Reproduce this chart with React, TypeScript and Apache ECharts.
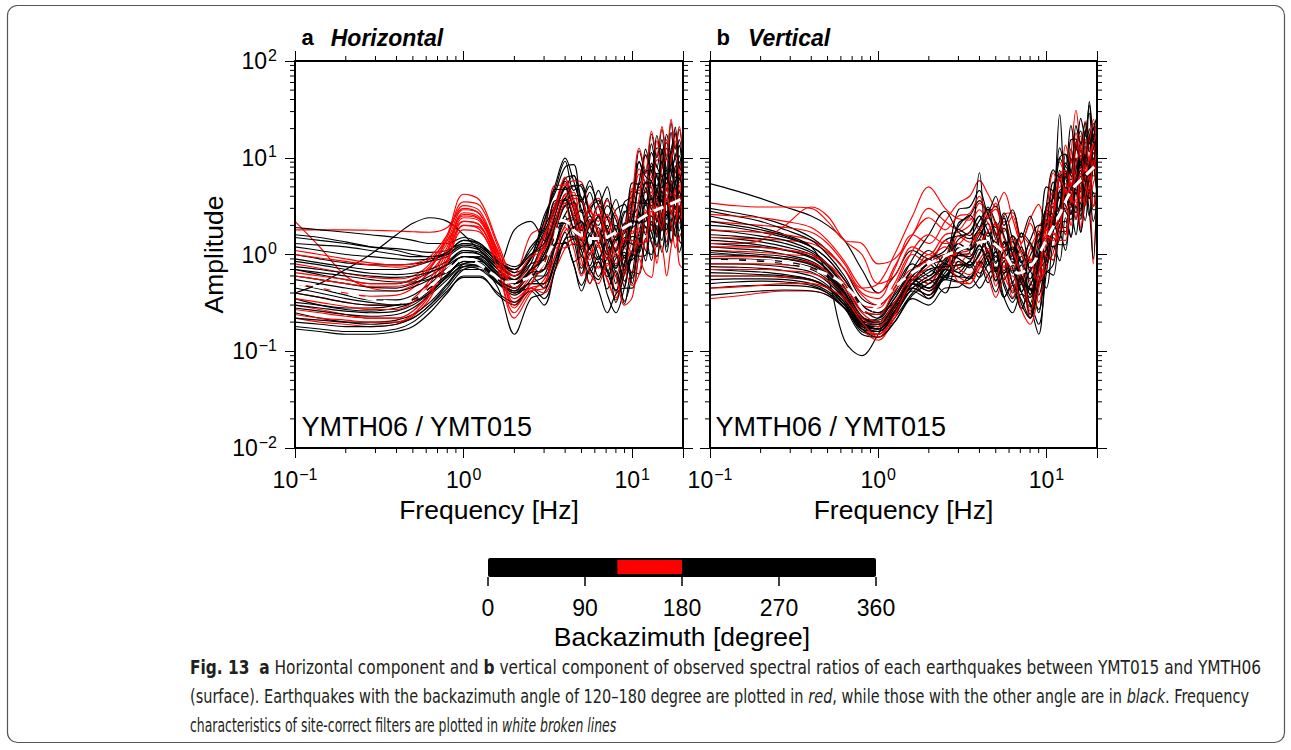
import React, { useEffect, useRef } from "react";
import * as echarts from "echarts";

const FONT = "'Liberation Sans', Arial, Helvetica, sans-serif";
const CAPTION_FONT_FAMILY = "'Liberation Sans Narrow', 'DejaVu Sans Condensed', 'Liberation Sans', sans-serif";

// ---------- frequency grid of the spectral-ratio curves (Hz) ----------
const FREQ = [0.1, 0.14, 0.2, 0.28, 0.4, 0.5, 0.63, 0.8, 1.0, 1.25, 1.6, 2.0, 2.5, 3.0, 3.5, 4.0, 4.5, 5.0, 5.6, 6.3, 7.1, 8.0, 9.0, 10, 11, 12, 13, 14, 15, 16, 17, 18, 19, 20];

// ---------- panel a (Horizontal): black = other backazimuths ----------
const A_K1 = [0.17, 0.16, 0.15, 0.15, 0.16, 0.18, 0.25, 0.4, 0.6, 0.6, 0.38, 0.3, 0.5, 0.6, 1.3, 2.5, 1.26, 1.44, 0.76, 1.26, 0.66, 1.0, 0.46, 1.1, 1.05, 2.45, 1.45, 3.4, 1.75, 3.5, 2.2, 4.15, 1.75, 2.4];
const A_K2 = [0.25, 0.22, 0.2, 0.19, 0.2, 0.22, 0.3, 0.45, 0.7, 0.75, 0.5, 0.38, 0.55, 1.0, 1.76, 3.2, 3.4, 1.4, 2.3, 1.3, 2.0, 0.72, 1.4, 1.9, 5.5, 3.2, 8.2, 4.7, 9.1, 4.6, 10.8, 5.7, 9.1, 4.7];
const A_K3 = [0.35, 0.3, 0.27, 0.26, 0.28, 0.32, 0.42, 0.6, 0.85, 0.8, 0.55, 0.42, 0.5, 0.5, 1.3, 1.3, 1.45, 1.4, 0.72, 0.55, 0.9, 0.65, 0.33, 0.63, 1.6, 1.1, 1.0, 2.2, 2.1, 1.05, 2.1, 3.1, 1.4, 1.26];
const A_K4 = [0.5, 0.44, 0.38, 0.34, 0.34, 0.38, 0.5, 0.7, 0.95, 0.9, 0.6, 0.5, 0.7, 1.5, 3.0, 5.7, 3.45, 1.8, 3.0, 3.6, 1.65, 1.08, 1.95, 4.5, 4.3, 4.4, 11.3, 8.1, 6.3, 12.6, 9.0, 7.0, 13.5, 7.2];
const A_K5 = [0.7, 0.62, 0.55, 0.5, 0.5, 0.55, 0.65, 0.8, 1.05, 1.0, 0.7, 0.55, 0.8, 2.2, 5.3, 9.9, 5.7, 3.5, 5.1, 3.2, 1.85, 2.9, 3.3, 1.26, 3.0, 5.6, 3.8, 2.7, 6.0, 7.5, 3.9, 5.5, 7.0, 2.4];
const A_K6 = [1.0, 0.9, 0.82, 0.78, 0.78, 0.8, 0.85, 0.95, 1.2, 1.1, 0.75, 0.6, 0.9, 1.7, 3.0, 4.9, 6.6, 3.7, 2.1, 3.2, 2.4, 1.4, 2.8, 2.6, 3.4, 7.3, 7.4, 4.3, 12, 7.2, 11.5, 6.2, 8.0, 9.6];
const A_K7 = [1.5, 1.4, 1.3, 1.2, 1.15, 1.1, 1.05, 1.1, 1.3, 1.2, 0.85, 0.7, 1.0, 1.2, 2.6, 5.0, 2.5, 2.9, 1.5, 2.5, 1.3, 2.0, 0.92, 1.54, 1.47, 3.4, 2.0, 4.8, 2.45, 4.9, 3.1, 5.8, 2.45, 3.4];
const A_K8 = [1.9, 1.8, 1.7, 1.6, 1.5, 1.4, 1.3, 1.3, 1.5, 1.3, 0.9, 0.75, 1.1, 1.9, 3.3, 6.1, 6.5, 2.7, 4.4, 2.5, 3.8, 1.37, 2.7, 3.2, 9.2, 5.4, 13.9, 7.9, 15.4, 7.7, 18.3, 9.7, 15.4, 7.9];
const A_K9 = [0.4, 0.5, 0.7, 1.0, 1.6, 2.1, 2.4, 2.2, 1.6, 1.1, 0.8, 1.8, 2.2, 1.4, 3.6, 3.6, 4.1, 3.9, 2.0, 1.54, 2.5, 1.8, 0.92, 2.0, 5.0, 3.5, 3.2, 6.9, 6.6, 3.3, 6.6, 9.7, 4.4, 4.0];
const A_K10 = [0.28, 0.26, 0.24, 0.23, 0.24, 0.28, 0.38, 0.55, 0.8, 0.85, 0.55, 0.4, 0.45, 0.35, 0.7, 1.33, 0.8, 0.42, 0.7, 0.84, 0.39, 0.25, 0.46, 1.0, 0.96, 0.98, 2.5, 1.8, 1.4, 2.8, 2.0, 1.56, 3.0, 1.6];
const A_K11 = [0.6, 0.55, 0.5, 0.46, 0.45, 0.5, 0.6, 0.8, 1.1, 1.05, 0.7, 0.5, 0.65, 1.1, 2.6, 5.0, 2.9, 1.76, 2.5, 1.6, 0.92, 1.43, 1.65, 2.4, 5.7, 10.6, 7.2, 5.1, 11.4, 14.3, 7.4, 10.5, 13.3, 4.6];
const A_K12 = [0.85, 0.78, 0.7, 0.64, 0.62, 0.64, 0.7, 0.85, 1.1, 1.0, 0.65, 0.55, 0.8, 0.9, 1.6, 2.6, 3.5, 2.0, 1.13, 1.7, 1.26, 0.76, 1.5, 1.28, 1.68, 3.6, 3.7, 2.16, 6.0, 3.6, 5.8, 3.1, 4.0, 0.7];
const A_K13 = [0.2, 0.19, 0.18, 0.18, 0.19, 0.22, 0.3, 0.48, 0.7, 0.7, 0.45, 0.15, 0.35, 0.4, 0.88, 1.7, 0.84, 0.96, 0.5, 0.84, 0.44, 0.68, 0.31, 0.66, 0.63, 1.47, 0.87, 2.0, 1.05, 2.1, 1.3, 2.5, 1.05, 1.44];
const A_K14 = [1.2, 1.1, 1.0, 0.95, 0.9, 0.88, 0.9, 1.0, 1.3, 1.2, 0.85, 0.65, 0.9, 2.5, 4.4, 8.0, 8.5, 3.5, 5.8, 3.3, 5.0, 1.8, 3.5, 4.0, 11.8, 6.9, 17.6, 10, 19.6, 9.8, 23, 12.3, 19.6, 10];
const A_K15 = [0.45, 0.4, 0.35, 0.32, 0.3, 0.32, 0.4, 0.6, 0.9, 0.95, 0.65, 0.5, 0.6, 0.8, 2.1, 2.1, 2.3, 2.2, 1.15, 0.88, 1.44, 1.04, 0.53, 1.08, 2.7, 1.9, 1.74, 3.8, 3.6, 1.8, 3.6, 5.3, 2.4, 2.2];
const A_K16 = [0.32, 0.3, 0.28, 0.28, 0.3, 0.34, 0.45, 0.62, 0.85, 0.8, 0.55, 0.45, 0.65, 1.0, 2.0, 3.8, 2.3, 1.2, 2.0, 2.4, 1.1, 0.72, 1.3, 3.5, 3.4, 3.4, 8.8, 6.3, 4.9, 9.8, 7.0, 5.5, 10.5, 5.6];
const A_K17 = [0.7, 0.65, 0.6, 0.55, 0.52, 0.52, 0.56, 0.65, 0.8, 0.75, 0.55, 0.45, 0.6, 0.7, 1.7, 3.2, 1.8, 1.12, 1.6, 1.0, 0.59, 0.91, 1.05, 0.57, 1.35, 2.5, 1.7, 1.2, 2.7, 3.4, 1.75, 2.5, 3.2, 0.45];
const A_K18 = [0.22, 0.21, 0.2, 0.2, 0.21, 0.24, 0.32, 0.5, 0.75, 0.78, 0.52, 0.4, 0.5, 0.5, 0.88, 1.45, 1.95, 1.1, 0.63, 0.95, 0.7, 0.42, 0.83, 0.88, 1.16, 2.5, 2.5, 1.5, 4.1, 2.5, 4.0, 2.1, 2.75, 3.3];
const A_K19 = [0.9, 0.82, 0.75, 0.7, 0.7, 0.75, 0.85, 1.05, 1.4, 1.3, 0.8, 0.6, 0.95, 2.2, 4.8, 9.2, 4.6, 5.3, 2.8, 4.6, 2.4, 3.7, 1.7, 5.5, 5.3, 12.3, 7.3, 17, 8.8, 17.5, 11, 20.8, 8.8, 12];
const A_K20 = [0.3, 0.28, 0.26, 0.25, 0.26, 0.3, 0.4, 0.58, 0.75, 0.7, 0.5, 0.42, 0.6, 0.45, 0.8, 1.44, 1.53, 0.63, 1.04, 0.59, 0.9, 0.32, 0.63, 0.94, 2.7, 1.6, 4.1, 2.3, 4.55, 2.3, 5.4, 2.9, 4.55, 2.3];
const A_K21 = [1.6, 1.5, 1.35, 1.2, 1.1, 1.0, 0.95, 1.0, 1.25, 1.15, 0.8, 0.7, 1.2, 1.8, 4.7, 4.7, 5.2, 5.0, 2.6, 2.0, 3.2, 2.3, 1.2, 3.6, 9.0, 6.4, 5.8, 12.6, 12, 6.0, 12, 17.6, 8.0, 7.2];
const A_K22 = [0.4, 0.36, 0.32, 0.3, 0.3, 0.34, 0.45, 0.62, 0.85, 0.82, 0.55, 0.45, 0.6, 0.6, 1.2, 2.3, 1.4, 0.72, 1.2, 1.44, 0.66, 0.43, 0.78, 2.25, 2.16, 2.2, 5.7, 4.05, 3.15, 6.3, 4.5, 3.5, 6.75, 3.6];
const A_K23 = [0.18, 0.17, 0.16, 0.16, 0.17, 0.2, 0.28, 0.42, 0.58, 0.58, 0.4, 0.32, 0.42, 0.3, 0.72, 1.35, 0.78, 0.48, 0.69, 0.43, 0.25, 0.39, 0.45, 0.45, 1.05, 1.96, 1.33, 0.95, 2.1, 2.6, 1.37, 1.9, 2.45, 0.84];
const A_K24 = [1.3, 1.25, 1.2, 1.1, 1.0, 0.95, 0.95, 1.05, 1.4, 1.25, 0.85, 0.7, 1.0, 1.3, 2.3, 3.8, 5.1, 2.9, 1.64, 2.5, 1.8, 1.1, 2.1, 1.9, 2.5, 5.5, 5.5, 3.2, 9.0, 5.4, 8.6, 4.7, 6.0, 7.2];
const A_K25 = [0.55, 0.5, 0.45, 0.42, 0.42, 0.46, 0.55, 0.72, 0.95, 0.92, 0.62, 0.5, 0.7, 0.9, 2.0, 3.8, 1.9, 2.2, 1.13, 1.9, 1.0, 1.53, 0.69, 2.2, 2.1, 4.9, 2.9, 6.8, 3.5, 7.0, 4.4, 8.3, 3.5, 4.8];
const A_K26 = [0.75, 0.7, 0.64, 0.6, 0.58, 0.6, 0.66, 0.78, 0.95, 0.88, 0.6, 0.5, 0.65, 0.7, 1.23, 2.24, 2.4, 0.98, 1.6, 0.91, 1.4, 0.5, 0.98, 0.5, 1.47, 0.86, 2.2, 1.26, 2.45, 1.2, 2.9, 1.54, 2.45, 1.26];

// ---------- panel a: red = backazimuth 120-180 deg ----------
const A_R1 = [2.2, 1.2, 0.6, 0.45, 0.42, 0.48, 0.65, 1.1, 2.0, 1.8, 0.8, 0.45, 0.7, 1.3, 3.4, 3.4, 3.8, 3.6, 1.9, 1.43, 2.3, 1.7, 0.86, 2.7, 6.8, 4.8, 4.4, 9.5, 9.0, 4.5, 9.0, 13.2, 6.0, 5.4];
const A_R2 = [1.8, 1.8, 1.8, 1.78, 1.75, 1.72, 1.7, 1.9, 3.0, 2.6, 1.0, 0.55, 0.9, 1.6, 3.2, 6.1, 3.7, 1.9, 3.2, 3.8, 1.76, 1.15, 2.1, 2.5, 2.4, 2.45, 6.3, 4.5, 3.5, 7.0, 5.0, 3.9, 7.5, 4.0];
const A_R3 = [0.3, 0.27, 0.24, 0.22, 0.22, 0.26, 0.4, 0.9, 2.2, 2.0, 0.8, 0.35, 0.5, 0.9, 2.2, 4.05, 2.3, 1.44, 2.1, 1.3, 0.76, 1.17, 1.35, 1.0, 2.4, 4.5, 3.0, 2.2, 4.8, 6.0, 3.1, 4.4, 5.6, 1.9];
const A_R4 = [0.5, 0.45, 0.4, 0.37, 0.38, 0.45, 0.7, 1.5, 3.5, 3.2, 1.2, 0.5, 0.7, 0.7, 1.23, 2.0, 2.7, 1.54, 0.88, 1.33, 0.98, 0.59, 1.16, 0.96, 1.26, 2.7, 2.8, 1.6, 4.5, 2.7, 4.3, 2.3, 3.0, 3.6];
const A_R5 = [0.8, 0.72, 0.64, 0.58, 0.56, 0.6, 0.8, 1.6, 4.2, 3.6, 1.3, 0.6, 0.9, 1.5, 3.3, 6.3, 3.2, 3.6, 1.9, 3.2, 1.65, 2.55, 1.16, 4.8, 4.6, 10.8, 6.4, 15, 7.7, 15.4, 9.7, 18.3, 7.7, 10.6];
const A_R6 = [0.22, 0.2, 0.19, 0.18, 0.19, 0.23, 0.35, 0.8, 2.0, 1.9, 0.7, 0.22, 0.4, 0.55, 0.97, 1.76, 1.87, 0.77, 1.27, 0.72, 1.1, 0.4, 0.77, 0.65, 1.9, 1.1, 2.8, 1.6, 3.15, 1.6, 3.7, 2.0, 3.15, 1.6];
const A_R7 = [1.1, 1.0, 0.9, 0.82, 0.78, 0.8, 0.95, 1.6, 3.2, 2.8, 1.1, 0.65, 1.6, 2.0, 5.2, 5.2, 5.8, 5.6, 2.9, 2.2, 3.6, 2.6, 1.32, 3.1, 7.7, 5.4, 4.9, 10.7, 10.2, 5.1, 10.2, 15, 6.8, 6.1];
const A_R8 = [0.4, 0.36, 0.32, 0.3, 0.3, 0.35, 0.55, 1.2, 2.7, 2.4, 0.9, 0.28, 0.45, 0.5, 1.0, 1.9, 1.15, 0.6, 1.0, 1.2, 0.55, 0.36, 0.65, 1.75, 1.7, 1.7, 4.4, 3.15, 2.45, 4.9, 3.5, 2.7, 5.25, 1.2];
const A_R9 = [0.6, 0.55, 0.5, 0.47, 0.47, 0.52, 0.72, 1.3, 2.5, 2.3, 1.0, 0.4, 0.6, 1.2, 2.9, 5.4, 3.1, 1.9, 2.8, 1.73, 1.0, 1.56, 1.8, 1.64, 3.9, 7.3, 4.9, 3.5, 7.8, 9.75, 5.1, 7.15, 9.1, 3.1];
const A_R10 = [0.27, 0.25, 0.23, 0.22, 0.22, 0.26, 0.42, 1.0, 2.4, 2.2, 0.85, 0.3, 0.45, 0.4, 0.7, 1.16, 1.56, 0.88, 0.5, 0.76, 0.56, 0.34, 0.66, 0.48, 0.63, 1.37, 1.38, 0.81, 2.25, 1.35, 2.16, 1.17, 1.5, 1.8];
const A_R11 = [0.35, 0.32, 0.29, 0.27, 0.27, 0.32, 0.5, 1.1, 2.6, 2.3, 0.9, 0.32, 0.5, 0.8, 1.76, 3.4, 1.7, 1.9, 1.0, 1.7, 0.88, 1.36, 0.62, 1.3, 1.26, 2.9, 1.74, 4.1, 2.1, 4.2, 2.6, 5.0, 2.1, 2.9];
const A_R12 = [0.65, 0.6, 0.55, 0.5, 0.5, 0.56, 0.75, 1.4, 2.9, 2.6, 1.05, 0.45, 0.65, 1.3, 2.3, 4.2, 4.4, 1.8, 3.0, 1.7, 2.6, 0.94, 1.8, 4.3, 12.6, 7.4, 18.9, 10.8, 21, 10.5, 24.9, 13.2, 21, 10.8];
const A_R13 = [0.24, 0.22, 0.21, 0.2, 0.2, 0.24, 0.38, 0.85, 1.8, 1.7, 0.7, 0.25, 0.42, 0.45, 1.17, 1.17, 1.3, 1.26, 0.65, 0.5, 0.81, 0.59, 0.3, 0.36, 0.9, 0.64, 0.58, 1.26, 1.2, 0.6, 1.2, 1.76, 0.8, 0.72];
const A_R14 = [1.0, 0.92, 0.85, 0.78, 0.74, 0.76, 0.9, 1.4, 2.2, 2.0, 0.9, 0.6, 0.95, 1.1, 2.2, 4.2, 2.5, 1.3, 2.2, 2.6, 1.2, 0.8, 1.43, 1.4, 1.3, 1.35, 3.5, 2.5, 1.9, 3.85, 2.75, 2.1, 4.1, 2.2];

// ---------- panel b (Vertical): black ----------
const B_K1 = [5.4, 4.6, 3.8, 3.1, 2.5, 2.0, 1.4, 0.7, 0.4, 0.6, 1.1, 0.9, 1.4, 1.56, 1.68, 2.5, 1.54, 2.16, 1.09, 1.56, 0.82, 1.34, 0.76, 2.9, 2.6, 7.4, 4.7, 12.4, 6.8, 14.7, 9.6, 20, 9.5, 14.4];
const B_K2 = [3.0, 2.7, 2.4, 2.0, 1.5, 1.1, 0.7, 0.35, 0.3, 0.45, 0.8, 0.6, 1.0, 1.04, 0.9, 1.28, 1.68, 0.84, 1.36, 0.64, 0.96, 0.38, 0.94, 1.4, 3.85, 2.7, 7.4, 4.8, 10, 5.4, 13.2, 7.9, 13.9, 7.9];
const B_K3 = [2.0, 1.9, 1.7, 1.5, 1.2, 0.9, 0.55, 0.28, 0.22, 0.35, 0.6, 0.5, 0.8, 0.65, 0.85, 0.64, 0.88, 1.05, 0.52, 0.35, 0.55, 0.44, 0.27, 0.96, 2.25, 1.9, 1.9, 4.6, 4.7, 2.5, 5.3, 8.6, 4.3, 4.3];
const B_K4 = [1.5, 1.45, 1.35, 1.2, 1.0, 0.75, 0.45, 0.22, 0.2, 0.3, 0.55, 0.7, 0.55, 1.17, 1.13, 1.7, 1.3, 0.81, 1.29, 1.35, 0.61, 0.43, 0.97, 2.9, 2.6, 3.2, 8.8, 7.2, 5.9, 12.7, 9.4, 8.2, 17.6, 10.4];
const B_K5 = [1.2, 1.15, 1.1, 1.0, 0.85, 0.65, 0.4, 0.2, 0.17, 0.25, 0.45, 0.38, 0.6, 0.72, 0.85, 1.23, 0.88, 0.66, 0.94, 0.5, 0.28, 0.48, 0.69, 0.9, 2.0, 4.5, 3.2, 2.6, 6.2, 8.4, 4.5, 7.2, 10, 3.8];
const B_K6 = [1.0, 0.98, 0.95, 0.9, 0.8, 0.62, 0.38, 0.19, 0.18, 0.28, 0.5, 0.8, 0.55, 1.3, 1.12, 1.44, 2.4, 1.65, 0.91, 1.2, 0.85, 0.56, 1.35, 2.0, 2.45, 6.4, 6.9, 4.6, 13.7, 8.8, 14.6, 8.8, 12.6, 16.8];
const B_K7 = [0.8, 0.8, 0.78, 0.74, 0.66, 0.52, 0.34, 0.18, 0.16, 0.24, 0.42, 0.35, 0.55, 0.52, 0.56, 0.84, 0.51, 0.72, 0.36, 0.52, 0.27, 0.45, 0.25, 0.96, 0.88, 2.45, 1.6, 4.1, 2.3, 4.9, 3.2, 6.75, 3.15, 4.8];
const B_K8 = [0.6, 0.6, 0.6, 0.58, 0.54, 0.45, 0.3, 0.16, 0.15, 0.22, 0.4, 0.55, 0.4, 0.85, 0.73, 1.04, 1.37, 0.68, 1.1, 0.52, 0.78, 0.31, 0.76, 1.15, 3.15, 2.2, 6.1, 4.0, 8.2, 4.4, 10.8, 6.5, 11.3, 6.5];
const B_K9 = [0.45, 0.47, 0.48, 0.48, 0.46, 0.4, 0.28, 0.15, 0.14, 0.2, 0.35, 0.3, 0.45, 0.46, 0.6, 0.45, 0.62, 0.74, 0.36, 0.25, 0.39, 0.31, 0.19, 0.64, 1.5, 1.26, 1.26, 3.1, 3.1, 1.7, 3.5, 5.8, 2.9, 2.9];
const B_K10 = [2.5, 2.2, 1.9, 1.6, 1.2, 0.6, 0.13, 0.09, 0.15, 0.3, 0.5, 0.35, 0.6, 0.78, 0.76, 1.14, 0.86, 0.54, 0.86, 0.9, 0.41, 0.29, 0.65, 2.1, 1.9, 2.3, 6.4, 5.2, 4.3, 9.3, 6.8, 6.0, 12.8, 7.6];
const B_K11 = [0.7, 0.68, 0.66, 0.62, 0.55, 0.45, 0.3, 0.2, 0.22, 0.35, 0.7, 1.1, 0.8, 2.1, 2.5, 3.6, 2.6, 1.9, 2.7, 1.44, 0.82, 1.4, 2.0, 2.0, 4.5, 10, 7.3, 5.9, 14, 18.9, 10, 16.2, 22.7, 8.6];
const B_K12 = [1.8, 1.7, 1.55, 1.4, 1.1, 0.8, 0.5, 0.26, 0.24, 0.4, 0.9, 1.6, 2.8, 1.7, 1.46, 1.87, 3.1, 2.1, 1.18, 1.56, 1.1, 0.73, 1.75, 1.44, 1.75, 4.55, 4.95, 3.3, 9.75, 6.3, 10.4, 6.3, 9.0, 12];
const B_K13 = [0.9, 0.88, 0.85, 0.8, 0.7, 0.55, 0.35, 0.19, 0.17, 0.26, 0.5, 0.45, 0.7, 0.98, 1.05, 7.0, 0.96, 1.35, 0.68, 0.98, 0.51, 0.84, 0.47, 2.3, 2.1, 5.9, 3.8, 9.9, 5.5, 11.8, 7.7, 16.2, 7.6, 11.5];
const B_K14 = [1.3, 1.25, 1.2, 1.1, 0.95, 0.7, 0.42, 0.21, 0.19, 0.3, 0.55, 0.45, 0.75, 1.3, 1.12, 1.6, 2.1, 1.05, 2.5, 0.8, 1.2, 0.48, 1.17, 2.05, 5.6, 3.9, 10.8, 7.0, 14.6, 7.8, 19.2, 11.5, 20, 11.5];
const B_K15 = [0.55, 0.56, 0.56, 0.55, 0.5, 0.42, 0.3, 0.2, 0.2, 0.3, 0.55, 0.45, 0.7, 0.59, 0.77, 0.58, 0.79, 0.95, 0.47, 0.32, 0.5, 0.3, 0.15, 0.88, 2.06, 1.73, 1.73, 4.2, 4.3, 2.3, 4.8, 7.9, 4.0, 4.0];
const B_K16 = [2.2, 2.0, 1.8, 1.55, 1.2, 0.9, 0.55, 0.3, 0.25, 0.32, 0.5, 0.42, 0.65, 0.98, 0.95, 1.43, 1.08, 0.68, 1.07, 1.13, 0.51, 0.36, 0.81, 2.7, 2.4, 2.9, 8.1, 6.6, 5.5, 11.8, 8.6, 38, 16.2, 9.6];
const B_K17 = [1.1, 1.05, 1.0, 0.95, 0.82, 0.62, 0.4, 0.22, 0.21, 0.32, 0.6, 0.9, 0.6, 1.04, 1.23, 1.8, 1.28, 0.96, 1.36, 0.72, 0.41, 0.7, 1.0, 1.12, 2.5, 28, 4.05, 3.3, 7.8, 10.5, 5.6, 9.0, 12.6, 4.8];
const B_K18 = [0.38, 0.4, 0.42, 0.43, 0.42, 0.38, 0.28, 0.18, 0.17, 0.25, 0.45, 0.38, 0.58, 0.52, 0.45, 0.58, 0.96, 0.66, 0.36, 0.48, 0.34, 0.22, 0.54, 0.65, 0.79, 2.05, 2.2, 1.5, 4.4, 2.8, 4.7, 2.8, 0.9, 5.4];
const B_K19 = [1.6, 1.55, 1.45, 1.3, 1.05, 0.78, 0.46, 0.23, 0.2, 0.3, 0.55, 0.8, 0.9, 2.9, 3.1, 4.6, 2.8, 4.0, 2.0, 2.9, 1.5, 2.5, 1.4, 5.0, 4.55, 12.7, 8.2, 21.5, 11.8, 25.5, 16.6, 35, 16.4, 25];
const B_K20 = [0.5, 0.52, 0.53, 0.52, 0.48, 0.4, 0.28, 0.17, 0.16, 0.24, 0.45, 0.6, 0.7, 0.65, 0.56, 0.8, 1.05, 0.53, 0.85, 0.4, 0.6, 0.24, 0.59, 0.45, 1.23, 0.86, 2.4, 1.54, 3.2, 1.7, 4.2, 2.5, 4.4, 2.5];
const B_K21 = [2.8, 2.5, 2.2, 1.8, 1.4, 1.0, 0.6, 0.3, 0.25, 0.38, 0.7, 0.9, 1.1, 1.95, 2.55, 1.92, 2.64, 3.15, 1.56, 1.05, 1.65, 1.32, 0.81, 3.2, 7.5, 6.3, 6.3, 15.4, 15.6, 8.4, 17.6, 28.8, 14.4, 14.4];
const B_K22 = [0.75, 0.74, 0.72, 0.68, 0.6, 0.48, 0.32, 0.17, 0.14, 0.2, 0.38, 0.5, 0.6, 0.59, 0.57, 0.86, 0.65, 0.41, 0.64, 0.68, 0.31, 0.22, 0.49, 1.34, 1.2, 1.47, 4.05, 3.3, 2.7, 5.9, 4.3, 3.8, 8.1, 4.8];
const B_K23 = [1.05, 1.0, 0.96, 0.9, 0.78, 0.6, 0.38, 0.2, 0.18, 0.28, 0.5, 0.65, 0.85, 1.43, 1.7, 2.5, 1.76, 1.32, 1.87, 1.0, 0.56, 0.97, 1.39, 0.78, 1.75, 3.9, 2.8, 2.3, 5.5, 7.35, 3.9, 6.3, 8.8, 3.4];
const B_K24 = [0.65, 0.64, 0.62, 0.6, 0.55, 0.46, 0.32, 0.19, 0.19, 0.3, 0.6, 0.8, 1.0, 0.91, 0.78, 1.0, 1.68, 1.16, 0.64, 0.84, 0.6, 0.39, 0.95, 3.2, 3.85, 10, 10.9, 7.3, 21.5, 13.9, 22.9, 13.9, 19.8, 26.4];
const B_K25 = [1.4, 1.35, 1.25, 1.12, 0.92, 0.68, 0.4, 0.2, 0.17, 0.26, 0.5, 0.7, 0.75, 0.78, 0.84, 1.26, 0.77, 1.08, 0.55, 0.78, 0.41, 0.67, 0.38, 0.67, 0.61, 1.7, 1.1, 2.9, 1.6, 3.4, 2.24, 4.7, 2.2, 3.4];
const B_K26 = [0.9, 0.9, 0.88, 0.84, 0.74, 0.58, 0.36, 0.19, 0.16, 0.24, 0.45, 0.55, 0.8, 1.82, 1.57, 2.24, 2.94, 1.47, 2.38, 1.12, 1.68, 0.67, 1.64, 0.77, 2.1, 1.47, 4.05, 2.64, 5.5, 2.94, 7.2, 4.3, 7.6, 4.3];

// ---------- panel b: red ----------
const B_R1 = [3.4, 3.2, 3.1, 3.1, 3.0, 2.2, 1.4, 1.3, 0.8, 0.9, 1.6, 3.0, 2.2, 1.82, 2.4, 1.8, 2.46, 2.94, 1.46, 0.98, 1.54, 1.23, 0.76, 1.92, 4.5, 3.8, 3.8, 9.2, 9.4, 5.0, 10.6, 17.3, 8.6, 8.6];
const B_R2 = [2.2, 2.1, 2.0, 1.9, 1.7, 1.3, 0.8, 0.45, 0.5, 1.0, 2.5, 5.0, 3.0, 2.34, 2.27, 3.4, 2.6, 1.62, 2.57, 2.7, 1.22, 0.86, 1.94, 2.24, 2.0, 2.45, 6.75, 5.5, 4.55, 9.8, 7.2, 6.3, 13.5, 8.0];
const B_R3 = [1.5, 1.48, 1.45, 1.4, 1.3, 1.05, 0.7, 0.4, 0.35, 0.7, 1.6, 1.3, 2.2, 3.4, 4.0, 5.8, 4.2, 3.1, 4.4, 2.34, 1.33, 2.3, 3.3, 1.8, 4.0, 9.0, 6.5, 5.3, 12.5, 16.8, 9.0, 14.4, 20, 7.7];
const B_R4 = [1.1, 1.08, 1.05, 1.0, 0.95, 0.8, 0.55, 0.3, 0.28, 0.5, 1.0, 0.8, 1.4, 0.91, 0.78, 1.0, 1.68, 1.16, 0.64, 0.84, 0.6, 0.22, 0.95, 0.86, 1.05, 2.7, 3.0, 2.0, 5.85, 3.8, 6.2, 3.8, 5.4, 7.2];
const B_R5 = [0.8, 0.8, 0.8, 0.78, 0.72, 0.6, 0.4, 0.2, 0.15, 0.28, 0.6, 0.5, 0.9, 1.04, 1.12, 1.68, 1.02, 1.44, 0.73, 1.04, 0.54, 0.9, 0.5, 2.5, 2.3, 6.4, 4.1, 10.7, 31, 12.7, 8.3, 17.6, 8.2, 12.5];
const B_R6 = [0.6, 0.6, 0.6, 0.58, 0.55, 0.46, 0.32, 0.17, 0.13, 0.22, 0.45, 0.38, 0.7, 0.59, 0.5, 0.72, 0.95, 0.47, 0.77, 0.36, 0.54, 0.22, 0.53, 0.9, 2.45, 1.7, 4.7, 3.1, 6.4, 3.4, 8.4, 5.0, 8.8, 5.0];
const B_R7 = [0.35, 0.37, 0.4, 0.42, 0.42, 0.38, 0.28, 0.17, 0.15, 0.25, 0.5, 0.42, 0.75, 0.78, 1.02, 0.77, 1.06, 1.26, 0.62, 0.42, 0.66, 0.53, 0.32, 1.44, 3.4, 2.8, 2.8, 6.9, 7.0, 3.8, 7.9, 13, 6.5, 6.5];
const B_R8 = [1.8, 1.75, 1.7, 1.6, 1.4, 1.1, 0.7, 0.38, 0.3, 0.42, 0.7, 0.55, 0.9, 0.98, 0.95, 1.43, 1.08, 0.68, 1.07, 1.13, 0.51, 0.36, 0.81, 1.8, 1.6, 1.96, 5.4, 4.4, 3.6, 7.8, 5.8, 5.0, 0.8, 6.4];
const B_R9 = [1.3, 1.3, 1.4, 2.0, 3.1, 2.5, 1.4, 1.0, 0.5, 0.6, 1.2, 1.0, 1.6, 1.7, 2.0, 2.9, 2.1, 1.56, 2.2, 1.17, 0.66, 1.14, 1.64, 1.23, 2.75, 6.2, 4.5, 3.6, 8.6, 11.6, 6.2, 9.9, 13.9, 5.3];
const B_R10 = [0.95, 0.95, 0.94, 0.9, 0.82, 0.66, 0.45, 0.25, 0.2, 0.32, 0.6, 1.0, 0.7, 1.56, 1.34, 1.73, 2.9, 2.0, 1.1, 1.44, 1.02, 0.67, 1.62, 2.16, 2.6, 6.8, 7.4, 5.0, 14.6, 9.5, 15.6, 9.5, 13.5, 18];
const B_R11 = [2.6, 2.5, 2.4, 2.2, 1.9, 1.4, 0.85, 0.45, 0.4, 0.75, 1.6, 2.4, 1.8, 2.5, 2.66, 4.0, 2.4, 3.4, 1.73, 2.5, 1.3, 2.1, 1.2, 0.96, 0.88, 2.45, 1.6, 4.1, 2.3, 4.9, 3.2, 6.75, 3.15, 4.8];
const B_R12 = [0.7, 0.7, 0.7, 0.68, 0.64, 0.54, 0.38, 0.22, 0.18, 0.3, 0.65, 0.9, 1.2, 0.72, 0.62, 0.88, 1.16, 0.58, 0.94, 0.44, 0.66, 0.26, 0.64, 2.56, 7.0, 4.9, 13.5, 8.8, 18.2, 9.8, 24, 14.4, 25, 14.4];
const B_R13 = [1.2, 1.2, 1.18, 1.12, 1.0, 0.8, 0.5, 0.27, 0.24, 0.45, 1.1, 1.6, 1.3, 1.3, 1.7, 1.28, 1.76, 2.1, 1.04, 0.7, 1.1, 0.88, 0.54, 0.72, 1.7, 1.4, 1.4, 3.5, 3.5, 1.9, 4.0, 6.5, 3.2, 3.2];
const B_R14 = [0.45, 0.46, 0.48, 0.5, 0.5, 0.45, 0.35, 0.2, 0.14, 0.24, 0.55, 0.75, 1.0, 0.52, 0.5, 0.76, 0.58, 0.36, 0.57, 0.6, 0.27, 0.19, 0.43, 1.57, 1.4, 1.7, 4.7, 3.85, 3.2, 6.9, 5.0, 4.4, 9.45, 5.6];

// ---------- site-correction filters (white broken lines) ----------
const FILTER_A_FREQ = [0.1, 0.14, 0.2, 0.3, 0.4, 0.5, 0.6, 0.75, 0.9, 1.02, 1.2, 1.5, 1.76, 2.2, 2.76, 3.33, 3.84, 4.2, 4.6, 5.2, 5.8, 6.6, 7.8, 9.1, 11, 13.1, 16, 20];
const FILTER_A_AMP = [0.5, 0.46, 0.4, 0.34, 0.32, 0.34, 0.42, 0.62, 0.82, 0.9, 0.82, 0.62, 0.52, 0.54, 0.69, 1.2, 2.26, 2.1, 1.71, 1.52, 1.46, 1.46, 1.65, 1.93, 2.3, 2.76, 3.2, 3.8];
const FILTER_B_FREQ = [0.1, 0.15, 0.2, 0.29, 0.42, 0.5, 0.58, 0.7, 0.87, 1.0, 1.21, 1.5, 1.81, 2.3, 2.98, 3.6, 4.49, 5.0, 5.64, 6.2, 6.8, 7.95, 9, 10.2, 12, 14.1, 17, 20];
const FILTER_B_AMP = [0.86, 0.86, 0.85, 0.82, 0.69, 0.62, 0.54, 0.4, 0.255, 0.3, 0.43, 0.6, 0.74, 0.9, 1.11, 1.25, 1.38, 1.25, 1.02, 0.78, 0.64, 0.74, 1.0, 1.52, 2.6, 4.6, 6.5, 8.6];

// ---------- axes / ticks ----------
const X_MIN = 0.1;
const X_MAX = 20;
const Y_MIN = 0.01;
const Y_MAX = 100;
const X_MINOR_TICKS = [0.2, 0.3, 0.4, 0.5, 0.6, 0.7, 0.8, 0.9, 2, 3, 4, 5, 6, 7, 8, 9];
const Y_MINOR_TICKS = [0.02, 0.03, 0.04, 0.05, 0.06, 0.07, 0.08, 0.09, 0.2, 0.3, 0.4, 0.5, 0.6, 0.7, 0.8, 0.9, 2, 3, 4, 5, 6, 7, 8, 9, 20, 30, 40, 50, 60, 70, 80, 90];
const BAZ_TICKS = [0, 90, 180, 270, 360];
const BAZ_BANDS = [[0, 360, 0], [120, 180, 1]]; // [from, to, isRed]

const BLACK = "#000000";
const RED = "#ff0000";
const CURVE_WIDTH = 1.15;

const A_BLACK = [A_K1, A_K2, A_K3, A_K4, A_K5, A_K6, A_K7, A_K8, A_K9, A_K10, A_K11, A_K12, A_K13, A_K14, A_K15, A_K16, A_K17, A_K18, A_K19, A_K20, A_K21, A_K22, A_K23, A_K24, A_K25, A_K26];
const A_RED = [A_R1, A_R2, A_R3, A_R4, A_R5, A_R6, A_R7, A_R8, A_R9, A_R10, A_R11, A_R12, A_R13, A_R14];
const B_BLACK = [B_K1, B_K2, B_K3, B_K4, B_K5, B_K6, B_K7, B_K8, B_K9, B_K10, B_K11, B_K12, B_K13, B_K14, B_K15, B_K16, B_K17, B_K18, B_K19, B_K20, B_K21, B_K22, B_K23, B_K24, B_K25, B_K26];
const B_RED = [B_R1, B_R2, B_R3, B_R4, B_R5, B_R6, B_R7, B_R8, B_R9, B_R10, B_R11, B_R12, B_R13, B_R14];

function supLabel(v: number): string {
  const e = Math.log10(v);
  const k = Math.round(e);
  if (Math.abs(e - k) > 1e-6) return "";
  return "{b|10}{s|" + (k < 0 ? "\u2212" + -k : String(k)) + "}";
}

const labelRich = {
  b: { fontFamily: FONT, fontSize: 23, color: "#000", lineHeight: 28 },
  s: { fontFamily: FONT, fontSize: 16, color: "#000", verticalAlign: "top", padding: [0, 0, 0, 1] },
};

function logAxis(kind: "x" | "y", grid: number, pos: string, showLabel: boolean, name: string) {
  const isX = kind === "x";
  return {
    type: "log",
    logBase: 10,
    gridIndex: grid,
    position: pos,
    min: isX ? X_MIN : Y_MIN,
    max: isX ? X_MAX : Y_MAX,
    z: 5,
    axisLine: { show: true, onZero: false, lineStyle: { color: "#000", width: 2 } },
    axisTick: { show: true, inside: false, length: 10, lineStyle: { color: "#000", width: 1 } },
    minorTick: { show: false },
    splitLine: { show: false },
    minorSplitLine: { show: false },
    axisLabel: showLabel
      ? { show: true, margin: 18, formatter: supLabel, rich: labelRich, color: "#000", fontFamily: FONT, fontSize: 23 }
      : { show: false },
    name,
    nameLocation: "middle",
    nameGap: isX ? 46 : 68,
    nameRotate: isX ? 0 : 90,
    nameTextStyle: { fontFamily: FONT, fontSize: 26.5, color: "#000" },
  };
}

function curveSeries(vals: number[], color: string, axisIdx: number) {
  const data: number[][] = [];
  vals.forEach((v, i) => {
    if (FREQ[i] !== undefined) data.push([FREQ[i], v]);
  });
  return {
    type: "line",
    xAxisIndex: axisIdx,
    yAxisIndex: axisIdx,
    data,
    symbol: "none",
    showSymbol: false,
    smooth: 0.35,
    clip: true,
    silent: true,
    z: 2,
    lineStyle: { color, width: CURVE_WIDTH },
  };
}

function panelCurves(black: number[][], red: number[][], axisIdx: number) {
  const out: any[] = [];
  let r = 0;
  black.forEach((b, i) => {
    out.push(curveSeries(b, BLACK, axisIdx));
    if (r < red.length && ((i + 1) * red.length) / black.length >= r + 1) {
      out.push(curveSeries(red[r], RED, axisIdx));
      r++;
    }
  });
  while (r < red.length) {
    out.push(curveSeries(red[r], RED, axisIdx));
    r++;
  }
  return out;
}

function filterSeries(freq: number[], amp: number[], axisIdx: number) {
  return {
    type: "line",
    xAxisIndex: axisIdx,
    yAxisIndex: axisIdx,
    data: freq.map((f, i) => [f, amp[i]]),
    symbol: "none",
    showSymbol: false,
    smooth: 0.4,
    clip: true,
    silent: true,
    z: 4,
    lineStyle: { color: "#ffffff", width: 3, type: [11, 7] },
  };
}

const tickStyle = { stroke: "#000", lineWidth: 1 };

function minorTickSeries(axisIdx: number) {
  return [
    {
      type: "custom",
      xAxisIndex: axisIdx,
      yAxisIndex: axisIdx,
      clip: false,
      silent: true,
      z: 6,
      data: X_MINOR_TICKS.map((v) => [v, 1]),
      renderItem: (_p: any, api: any) => {
        const v = api.value(0);
        const b = api.coord([v, Y_MIN]);
        const t = api.coord([v, Y_MAX]);
        return {
          type: "group",
          children: [
            { type: "line", shape: { x1: b[0], y1: b[1], x2: b[0], y2: b[1] + 5 }, style: tickStyle },
            { type: "line", shape: { x1: t[0], y1: t[1], x2: t[0], y2: t[1] - 5 }, style: tickStyle },
          ],
        };
      },
    },
    {
      type: "custom",
      xAxisIndex: axisIdx,
      yAxisIndex: axisIdx,
      clip: false,
      silent: true,
      z: 6,
      data: Y_MINOR_TICKS.map((v) => [1, v]),
      renderItem: (_p: any, api: any) => {
        const v = api.value(1);
        const l = api.coord([X_MIN, v]);
        const r = api.coord([X_MAX, v]);
        return {
          type: "group",
          children: [
            { type: "line", shape: { x1: l[0], y1: l[1], x2: l[0] - 5, y2: l[1] }, style: tickStyle },
            { type: "line", shape: { x1: r[0], y1: r[1], x2: r[0] + 5, y2: r[1] }, style: tickStyle },
          ],
        };
      },
    },
  ];
}

const CAPTION_SIZE = 19;
const CAPTION_LINES = [
  {
    y: 667,
    width: 1072,
    text: "{fb|Fig. 13}  {b|a} Horizontal component and {b|b} vertical component of observed spectral ratios of each earthquakes between YMT015 and YMTH06",
    segs: [["bold", "Fig. 13"], ["normal", "  "], ["bold", "a"], ["normal", " Horizontal component and "], ["bold", "b"], ["normal", " vertical component of observed spectral ratios of each earthquakes between YMT015 and YMTH06"]],
  },
  {
    y: 697,
    width: 1059,
    text: "(surface). Earthquakes with the backazimuth angle of 120\u2013180 degree are plotted in {i|red}, while those with the other angle are in {i|black}. Frequency",
    segs: [["normal", "(surface). Earthquakes with the backazimuth angle of 120\u2013180 degree are plotted in "], ["italic", "red"], ["normal", ", while those with the other angle are in "], ["italic", "black"], ["normal", ". Frequency"]],
  },
  {
    y: 726,
    width: 426,
    text: "characteristics of site-correct filters are plotted in {i|white broken lines}",
    segs: [["normal", "characteristics of site-correct filters are plotted in "], ["italic", "white broken lines"]],
  },
];

function measureLineScale(segs: string[][], target: number): number {
  try {
    const c = document.createElement("canvas");
    const ctx = c.getContext("2d");
    if (!ctx) return 1;
    let w = 0;
    for (const [st, s] of segs) {
      ctx.font = `${st} ${CAPTION_SIZE}px ${CAPTION_FONT_FAMILY}`;
      w += ctx.measureText(s).width;
    }
    return w > 0 ? target / w : 1;
  } catch (e) {
    return 1;
  }
}

export default function App() {
  const ref = useRef<HTMLDivElement>(null);
  useEffect(() => {
    if (!ref.current) return;
    const chart = echarts.init(ref.current, null, { renderer: "svg" });

    const captionRich = {
      fb: { fontFamily: CAPTION_FONT_FAMILY, fontSize: CAPTION_SIZE, fontWeight: "bold", fill: "#231f20" },
      b: { fontFamily: CAPTION_FONT_FAMILY, fontSize: CAPTION_SIZE, fontWeight: "bold", fill: "#231f20" },
      i: { fontFamily: CAPTION_FONT_FAMILY, fontSize: CAPTION_SIZE, fontStyle: "italic", fill: "#231f20" },
    };

    const series: any[] = [
      ...panelCurves(A_BLACK, A_RED, 0),
      filterSeries(FILTER_A_FREQ, FILTER_A_AMP, 0),
      ...minorTickSeries(0),
      ...panelCurves(B_BLACK, B_RED, 2),
      filterSeries(FILTER_B_FREQ, FILTER_B_AMP, 2),
      ...minorTickSeries(2),
      {
        type: "custom",
        xAxisIndex: 4,
        yAxisIndex: 4,
        silent: true,
        clip: false,
        z: 3,
        encode: { x: [0, 1], y: 2 },
        data: BAZ_BANDS,
        renderItem: (_p: any, api: any) => {
          const isRed = api.value(2) === 1;
          const a = api.coord([api.value(0), 0]);
          const b = api.coord([api.value(1), 1]);
          const top = b[1] + (isRed ? 2 : 0);
          const bottom = a[1] - (isRed ? 3 : 0);
          return {
            type: "rect",
            shape: { x: a[0], y: top, width: b[0] - a[0], height: bottom - top, r: isRed ? 0 : 2 },
            style: { fill: isRed ? RED : BLACK },
          };
        },
      },
    ];

    const option: any = {
      animation: false,
      backgroundColor: "#ffffff",
      grid: [
        { left: 295, top: 61, width: 388, height: 387, show: false, containLabel: false, outerBoundsMode: "none" },
        { left: 710, top: 61, width: 387, height: 387, show: false, containLabel: false, outerBoundsMode: "none" },
        { left: 488, top: 558, width: 388, height: 19, show: false, containLabel: false, outerBoundsMode: "none" },
      ],
      xAxis: [
        logAxis("x", 0, "bottom", true, "Frequency [Hz]"),
        logAxis("x", 0, "top", false, ""),
        logAxis("x", 1, "bottom", true, "Frequency [Hz]"),
        logAxis("x", 1, "top", false, ""),
        {
          type: "value",
          gridIndex: 2,
          position: "bottom",
          min: 0,
          max: 360,
          interval: 90,
          z: 5,
          axisLine: { show: false },
          axisTick: { show: true, length: 9, lineStyle: { color: "#000", width: 1.5 } },
          splitLine: { show: false },
          axisLabel: {
            show: true,
            margin: 19,
            color: "#000",
            fontFamily: FONT,
            fontSize: 23,
            formatter: (v: number) => (BAZ_TICKS.indexOf(v) >= 0 ? String(v) : ""),
          },
          name: "Backazimuth [degree]",
          nameLocation: "middle",
          nameGap: 46,
          nameTextStyle: { fontFamily: FONT, fontSize: 26.5, color: "#000" },
        },
      ],
      yAxis: [
        logAxis("y", 0, "left", true, "Amplitude"),
        logAxis("y", 0, "right", false, ""),
        logAxis("y", 1, "left", false, ""),
        logAxis("y", 1, "right", false, ""),
        { type: "value", gridIndex: 2, min: 0, max: 1, show: false },
      ],
      series,
      graphic: [
        {
          type: "rect",
          silent: true,
          z: -10,
          shape: { x: 7.5, y: 5.5, width: 1277, height: 737, r: 10 },
          style: { fill: "none", stroke: "#555", lineWidth: 1.2 },
        },
        {
          type: "text",
          x: 301.5,
          y: 37.5,
          silent: true,
          style: {
            text: "{a|a}{h|Horizontal}",
            verticalAlign: "middle",
            rich: {
              a: { fontFamily: FONT, fontSize: 22, fontWeight: "bold", fill: "#000", padding: [0, 17, 0, 0] },
              h: { fontFamily: FONT, fontSize: 23, fontWeight: "bold", fontStyle: "italic", fill: "#000" },
            },
          },
        },
        {
          type: "text",
          x: 716.5,
          y: 37.5,
          silent: true,
          style: {
            text: "{a|b}{h|Vertical}",
            verticalAlign: "middle",
            rich: {
              a: { fontFamily: FONT, fontSize: 22, fontWeight: "bold", fill: "#000", padding: [0, 18, 0, 0] },
              h: { fontFamily: FONT, fontSize: 23, fontWeight: "bold", fontStyle: "italic", fill: "#000" },
            },
          },
        },
        {
          type: "text",
          x: 301.5,
          y: 427,
          silent: true,
          z: 10,
          style: { text: "YMTH06 / YMT015", font: `27px ${FONT}`, fill: "#000", verticalAlign: "middle" },
        },
        {
          type: "text",
          x: 715.5,
          y: 427,
          silent: true,
          z: 10,
          style: { text: "YMTH06 / YMT015", font: `27px ${FONT}`, fill: "#000", verticalAlign: "middle" },
        },
        ...CAPTION_LINES.map((ln) => ({
          type: "text",
          x: 190,
          y: ln.y,
          scaleX: measureLineScale(ln.segs, ln.width),
          silent: true,
          style: {
            text: ln.text,
            font: `${CAPTION_SIZE}px ${CAPTION_FONT_FAMILY}`,
            fill: "#231f20",
            verticalAlign: "middle",
            rich: captionRich,
          },
        })),
      ],
    };

    chart.setOption(option);
    return () => chart.dispose();
  }, []);

  return (
    <div
      ref={ref}
      style={{ position: "fixed", left: 0, top: 0, width: 1291, height: 750, background: "#fff" }}
    />
  );
}
